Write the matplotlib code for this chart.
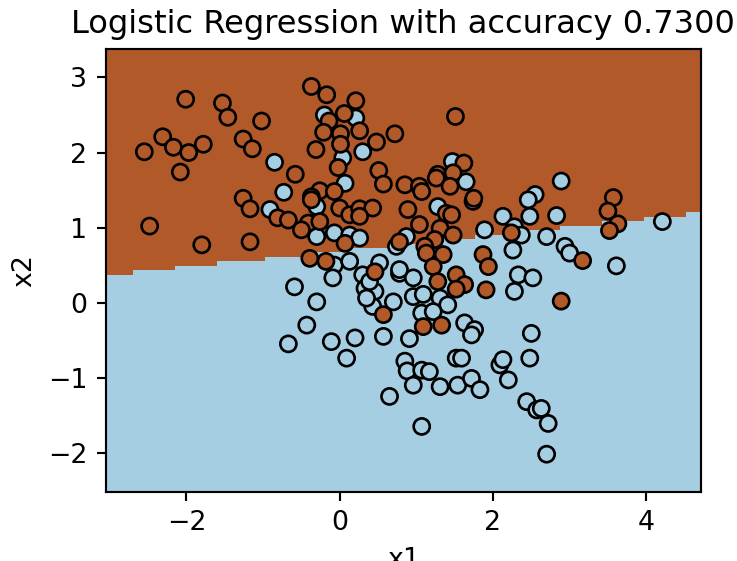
import numpy as np
import matplotlib
matplotlib.use("Agg")
import matplotlib.pyplot as plt

# ---------------------------------------------
# pontos (classe 1 = marrom, classe 0 = azul claro)
# ---------------------------------------------
x1_class1 = [-2.01, -1.53, -1.46, -1.02, -2.31, -2.55, -2.17, -1.97, -1.78, -2.08,
             -1.26, -1.14, -1.26, -0.37, -0.17, 0.21, 0.06, -0.14, -0.21, 0.01,
             0.26, 0.72, 0.48, 0.01, -0.31, -0.02, -0.58, 0.51, 0.57, -0.26,
             -0.07, -0.37, 0.85, 1.51, 1.62, 1.28, 1.48, 1.04, 1.07, 1.26,
             1.44, 1.75, 3.57, -2.48, -1.80, -1.17, -1.17, -0.81, -0.67, -0.37,
             0.00, 0.13, 0.26, 0.43, 0.26, -0.41, -0.26, -0.50, 0.07, -0.39,
             -0.18, 0.46, 0.78, 0.57, 0.89, 1.39, 1.46, 1.04, 1.31, 1.48,
             1.24, 1.11, 1.35, 1.13, 1.22, 2.24, 1.87, 1.94, 1.91, 1.52,
             1.63, 1.52, 1.28, 1.09, 1.33, 3.50, 3.63, 3.52, 3.17, 2.89]
x2_class1 = [2.71, 2.66, 2.47, 2.42, 2.21, 2.01, 2.07, 2.00, 2.11, 1.74,
             2.18, 2.05, 1.39, 2.88, 2.77, 2.69, 2.52, 2.42, 2.27, 2.25,
             2.29, 2.25, 2.14, 2.11, 2.04, 1.80, 1.71, 1.76, 1.58, 1.49,
             1.48, 1.41, 1.57, 2.48, 1.86, 1.71, 1.73, 1.55, 1.48, 1.66,
             1.55, 1.39, 1.40, 1.02, 0.77, 1.25, 0.81, 1.13, 1.10, 1.37,
             1.26, 1.17, 1.25, 1.26, 1.15, 1.06, 1.08, 0.97, 0.79, 0.59,
             0.55, 0.41, 0.81, -0.16, 1.24, 1.19, 1.17, 1.04, 0.99, 0.90,
             0.84, 0.75, 0.64, 0.66, 0.48, 0.93, 0.64, 0.48, 0.17, 0.37,
             0.24, 0.18, 0.28, -0.32, -0.30, 1.22, 1.05, 0.96, 0.56, 0.02]

x1_class0 = [-0.85, -0.20, 0.21, 0.30, 0.04, 0.07, -0.73, 1.47, 1.65, 2.55,
             2.46, 2.89, -0.91, -0.30, -0.30, -0.07, 0.13, 0.26, -0.07, 0.13,
             -0.09, -0.59, 0.30, 0.52, 0.74, 0.78, 0.33, 0.46, 0.43, 0.70,
             -0.30, -0.43, -0.67, -0.11, 0.20, 0.57, 0.35, 0.39, 1.74, 1.28,
             1.89, 2.13, 2.28, 2.37, 2.48, 2.70, 2.83, 2.26, 2.33, 2.52,
             2.28, 0.96, 0.78, 0.96, 1.09, 1.31, 1.41, 1.07, 1.22, 1.63,
             1.76, 1.72, 0.91, 2.50, 0.87, 4.21, 2.94, 3.00, 3.61, 0.09,
             0.65, 0.85, 0.88, 1.07, 1.17, 0.96, 1.31, 1.52, 1.59, 1.54,
             1.72, 1.83, 2.09, 2.13, 2.20, 2.48, 2.44, 2.57, 2.63, 2.72,
             2.70, 1.07]
x2_class0 = [1.87, 2.50, 2.46, 2.01, 1.93, 1.59, 1.47, 1.88, 1.61, 1.44,
             1.37, 1.62, 1.24, 1.28, 0.88, 0.93, 0.90, 0.86, 0.50, 0.55,
             0.33, 0.21, 0.37, 0.53, 0.75, 0.39, 0.19, 0.15, -0.05, 0.01,
             0.01, -0.30, -0.55, -0.52, -0.47, -0.45, 0.06, 0.28, 1.35, 1.28,
             0.97, 1.15, 1.01, 0.90, 1.15, 0.88, 1.16, 0.70, 0.37, 0.33,
             0.15, 0.33, 0.44, 0.08, 0.11, 0.06, -0.03, -0.14, -0.12, -0.27,
             -0.36, -0.43, -0.48, -0.41, 0.88, 1.08, 0.75, 0.66, 0.49, -0.74,
             -1.25, -0.78, -0.91, -0.90, -0.92, -1.10, -1.12, -0.74, -0.74, -1.10,
             -1.01, -1.16, -0.83, -0.76, -1.03, -0.74, -1.32, -1.43, -1.41, -1.61,
             -2.02, -1.65]

# fronteira de decisão do modelo: classe 1 quando x2 > intercepto + inclinacao * x1
BOUNDARY_INTERCEPT = 0.688
BOUNDARY_SLOPE = 0.108
ACCURACY = 0.73
DPI = 193

# =====================================================
# MONTAGEM DOS DADOS
# =====================================================
X = np.column_stack([np.r_[x1_class0, x1_class1], np.r_[x2_class0, x2_class1]])
Y = np.r_[np.zeros(len(x1_class0)), np.ones(len(x1_class1))]

x_min, x_max = X[:, 0].min() - 0.5, X[:, 0].max() + 0.5
y_min, y_max = X[:, 1].min() - 0.5, X[:, 1].max() + 0.5
xx, yy = np.meshgrid(np.linspace(x_min, x_max, 100), np.linspace(y_min, y_max, 100))
Z = (yy > BOUNDARY_INTERCEPT + BOUNDARY_SLOPE * xx).astype(float)

# =====================================================
# GRÁFICO
# =====================================================
fig = plt.figure(figsize=(737 / DPI, 561 / DPI), dpi=DPI)
ax = fig.add_axes([0.1438, 0.1235, 0.8069, 0.7892])
ax.pcolormesh(xx, yy, Z, cmap=plt.cm.Paired, shading="nearest")
ax.scatter(X[:, 0], X[:, 1], c=Y, edgecolors="k", cmap=plt.cm.Paired)
ax.set_xlim(x_min, x_max)
ax.set_ylim(y_min, y_max)
ax.set_xlabel("x1")
ax.set_ylabel("x2")
ax.set_title("Logistic Regression with accuracy %.4f" % ACCURACY)
fig.savefig("out.png", dpi=DPI)
